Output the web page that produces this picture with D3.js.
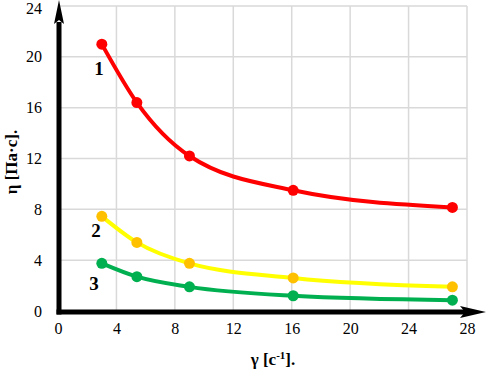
<!DOCTYPE html>
<html>
<head>
<meta charset="utf-8">
<script src="https://cdn.jsdelivr.net/npm/d3@7"></script>
<style>
  body { margin: 0; background: #fff; }
  svg { display: block; }
</style>
</head>
<body>
<svg id="chart" width="486" height="371"></svg>
<script>
// shear rate, 1/s
var shearRate = [3, 5.4, 9, 16.1, 27];
// viscosity for the three samples
var curve1 = [21.0, 16.4, 12.2, 9.5, 8.15];
var curve2 = [7.45, 5.4, 3.75, 2.6, 1.9];
var curve3 = [3.75, 2.7, 1.9, 1.2, 0.85];
var curveLabels = ["1", "2", "3"];
var xTicks = [0, 4, 8, 12, 16, 20, 24, 28];
var yTicks = [0, 4, 8, 12, 16, 20, 24];

var serif = "'Liberation Serif', 'Times New Roman', serif";

var series = [
  { name: curveLabels[0], values: curve1, line: "#ff0000", dot: "#ff0000", lx: 99, ly: 68 },
  { name: curveLabels[1], values: curve2, line: "#ffff00", dot: "#ffc000", lx: 96, ly: 230 },
  { name: curveLabels[2], values: curve3, line: "#00b050", dot: "#00b050", lx: 94, ly: 283 }
];

var svg = d3.select("#chart");

var x = d3.scaleLinear().domain([0, 28]).range([58, 467]);
var y = d3.scaleLinear().domain([0, 24]).range([311, 6]);

// grid
svg.append("g")
  .selectAll("line")
  .data(xTicks.slice(1))
  .join("line")
  .attr("x1", d => x(d)).attr("x2", d => x(d))
  .attr("y1", y(0)).attr("y2", y(24))
  .attr("stroke", "#d9d9d9").attr("stroke-width", 1.5);

svg.append("g")
  .selectAll("line")
  .data(yTicks.slice(1))
  .join("line")
  .attr("x1", x(0)).attr("x2", x(28))
  .attr("y1", d => y(d)).attr("y2", d => y(d))
  .attr("stroke", "#d9d9d9").attr("stroke-width", 1.5);

// tick labels via axes (no lines)
var xAxis = svg.append("g")
  .attr("transform", "translate(0," + (y(0) + 12) + ")")
  .call(d3.axisBottom(x).tickValues(xTicks).tickSize(0).tickPadding(0));
xAxis.select(".domain").remove();
xAxis.selectAll("text")
  .style("font-family", serif)
  .style("font-size", "16px")
  .attr("fill", "#000");

var yAxis = svg.append("g")
  .attr("transform", "translate(42,0)")
  .call(d3.axisLeft(y).tickValues(yTicks).tickSize(0).tickPadding(0));
yAxis.select(".domain").remove();
yAxis.selectAll("text")
  .style("font-family", serif)
  .style("font-size", "16px")
  .attr("fill", "#000");
yAxis.selectAll(".tick").filter(d => d === 24).select("text").attr("dy", "0.45em");

// curves
var line = d3.line()
  .x((d, i) => x(shearRate[i]))
  .y(d => y(d))
  .curve(d3.curveMonotoneX);

series.forEach(s => {
  svg.append("path")
    .datum(s.values)
    .attr("fill", "none")
    .attr("stroke", s.line)
    .attr("stroke-width", 4)
    .attr("stroke-linecap", "round")
    .attr("d", line);

  svg.append("g")
    .selectAll("circle")
    .data(s.values)
    .join("circle")
    .attr("cx", (d, i) => x(shearRate[i]))
    .attr("cy", d => y(d))
    .attr("r", 5.5)
    .attr("fill", s.dot);

  svg.append("text")
    .attr("x", s.lx).attr("y", s.ly)
    .attr("dy", "0.35em")
    .attr("text-anchor", "middle")
    .style("font-family", serif)
    .attr("font-weight", "bold")
    .attr("font-size", "19px")
    .text(s.name);
});

// axis lines with arrows
svg.append("line")
  .attr("x1", 59).attr("x2", 59)
  .attr("y1", 314.5).attr("y2", 22)
  .attr("stroke", "#000").attr("stroke-width", 5);
svg.append("path")
  .attr("d", "M59,0 L64,24 L59,20 L54,24 Z")
  .attr("fill", "#000");

svg.append("line")
  .attr("x1", 56.5).attr("x2", 465)
  .attr("y1", 312).attr("y2", 312)
  .attr("stroke", "#000").attr("stroke-width", 5);
svg.append("path")
  .attr("d", "M486,312 L460,306 L465,312 L460,318 Z")
  .attr("fill", "#000");

// axis titles
svg.append("text")
  .attr("transform", "translate(17,162) rotate(-90)")
  .attr("text-anchor", "middle")
  .style("font-family", serif)
  .attr("font-weight", "bold")
  .attr("font-size", "17px")
  .text("η [Па·с].");

var xt = svg.append("text")
  .attr("x", 273).attr("y", 365)
  .attr("text-anchor", "middle")
  .style("font-family", serif)
  .attr("font-weight", "bold")
  .attr("font-size", "17px");
xt.append("tspan").text("γ [с");
xt.append("tspan").attr("dy", -6).attr("font-size", "11px").text("-1");
xt.append("tspan").attr("dy", 6).text("].");
</script>
</body>
</html>
